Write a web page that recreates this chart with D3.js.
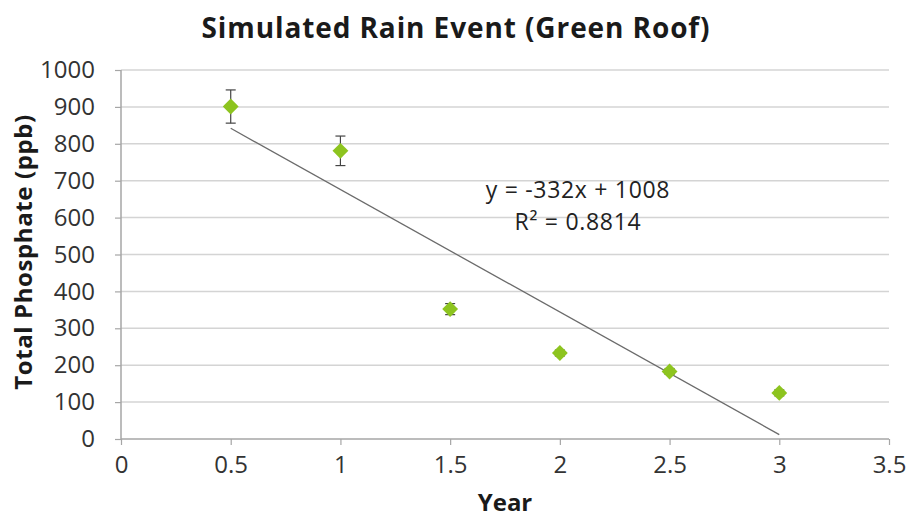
<!DOCTYPE html>
<html>
<head>
<meta charset="utf-8">
<script src="https://cdn.jsdelivr.net/npm/d3@7"></script>
<style>
  body { margin: 0; background: #fff; }
  text { font-family: "Open Sans", "DejaVu Sans", sans-serif; }
</style>
</head>
<body>
<svg></svg>
<script>
// chart data
let years = [0.5, 1, 1.5, 2, 2.5, 3];
let phosphate = [901, 781, 352, 233, 183, 125];
let errors = [45, 40, 15, 8, 8, 8];
let xTicks = [0, 0.5, 1, 1.5, 2, 2.5, 3, 3.5];
let yTicks = [0, 100, 200, 300, 400, 500, 600, 700, 800, 900, 1000];
let slope = -332;
let intercept = 1008;
let eqText = ['y = -332x + 1008', 'R² = 0.8814'];

let width = 910;
let height = 519;

let svg = d3.select('svg')
    .attr('width', width)
    .attr('height', height);

let xScale = d3.scaleLinear().domain([0, 3.5]).range([121, 889]);
let yScale = d3.scaleLinear().domain([0, 1000]).range([439, 70]);

// gridlines
svg.append('g')
    .selectAll('line')
    .data(yTicks.filter(d => d > 0))
    .enter()
    .append('line')
    .attr('x1', xScale(0))
    .attr('x2', xScale(3.5))
    .attr('y1', d => yScale(d))
    .attr('y2', d => yScale(d))
    .attr('stroke', '#d4d4d4')
    .attr('stroke-width', 1.5);

// axes
let xAxis = d3.axisBottom(xScale).tickValues(xTicks).tickSize(6).tickPadding(11)
    .tickFormat(d => String(d));
let yAxis = d3.axisLeft(yScale).tickValues(yTicks).tickSize(6).tickPadding(20)
    .tickFormat(d => String(d));

let gx = svg.append('g')
    .attr('transform', `translate(0, ${yScale(0)})`)
    .call(xAxis);
let gy = svg.append('g')
    .attr('transform', `translate(${xScale(0)}, 0)`)
    .call(yAxis);

[gx, gy].forEach(g => {
    g.select('.domain').attr('stroke', '#a6a6a6').attr('stroke-width', 1.5);
    g.selectAll('.tick line').attr('stroke', '#a6a6a6').attr('stroke-width', 1.2);
    g.selectAll('.tick text')
        .attr('fill', '#333')
        .style('font-size', '24px')
        .style('font-family', '"Open Sans", sans-serif');
});
gx.select('.domain').attr('d', `M${xScale(0)},0H${xScale(3.5)}`);
gy.select('.domain').attr('d', `M0,${yScale(0)}V${yScale(1000)}`);

// trendline
svg.append('line')
    .attr('x1', xScale(years[0]))
    .attr('y1', yScale(slope * years[0] + intercept))
    .attr('x2', xScale(years[years.length - 1]))
    .attr('y2', yScale(slope * years[years.length - 1] + intercept))
    .attr('stroke', '#6b6b6b')
    .attr('stroke-width', 1.3);

let points = years.map((x, i) => ({ x: x, y: phosphate[i], e: errors[i] }));

// error bars
let eb = svg.append('g')
    .selectAll('g')
    .data(points)
    .enter()
    .append('g')
    .attr('stroke', '#444')
    .attr('stroke-width', 1.2);
eb.append('line')
    .attr('x1', d => xScale(d.x)).attr('x2', d => xScale(d.x))
    .attr('y1', d => yScale(d.y + d.e)).attr('y2', d => yScale(d.y - d.e));
eb.append('line')
    .attr('x1', d => xScale(d.x) - 5).attr('x2', d => xScale(d.x) + 5)
    .attr('y1', d => yScale(d.y + d.e)).attr('y2', d => yScale(d.y + d.e));
eb.append('line')
    .attr('x1', d => xScale(d.x) - 5).attr('x2', d => xScale(d.x) + 5)
    .attr('y1', d => yScale(d.y - d.e)).attr('y2', d => yScale(d.y - d.e));

// markers
svg.append('g')
    .selectAll('path')
    .data(points)
    .enter()
    .append('path')
    .attr('d', d3.symbol().type(d3.symbolDiamond2).size(160))
    .attr('transform', d => `translate(${xScale(d.x)}, ${yScale(d.y)})`)
    .attr('fill', '#8dc41f');

// equation
svg.append('text')
    .attr('x', 578).attr('y', 198)
    .attr('text-anchor', 'middle')
    .attr('fill', '#222')
    .style('font-size', '23px')
    .style('letter-spacing', '0.7px')
    .text(eqText[0]);
svg.append('text')
    .attr('x', 578).attr('y', 230)
    .attr('text-anchor', 'middle')
    .attr('fill', '#222')
    .style('font-size', '23px')
    .style('letter-spacing', '0.7px')
    .text(eqText[1]);

// title and axis labels
svg.append('text')
    .attr('x', 456).attr('y', 38)
    .attr('text-anchor', 'middle')
    .attr('fill', '#1a1a1a')
    .style('font-size', '28px')
    .style('font-weight', 'bold')
    .style('letter-spacing', '0.9px')
    .text('Simulated Rain Event (Green Roof)');

svg.append('text')
    .attr('x', 505).attr('y', 511)
    .attr('text-anchor', 'middle')
    .attr('fill', '#1a1a1a')
    .style('font-size', '24px')
    .style('font-weight', 'bold')
    .text('Year');

svg.append('text')
    .attr('transform', 'translate(32, 252) rotate(-90)')
    .attr('text-anchor', 'middle')
    .attr('fill', '#1a1a1a')
    .style('font-size', '24px')
    .style('font-weight', 'bold')
    .style('letter-spacing', '0.6px')
    .text('Total Phosphate (ppb)');
</script>
</body>
</html>
